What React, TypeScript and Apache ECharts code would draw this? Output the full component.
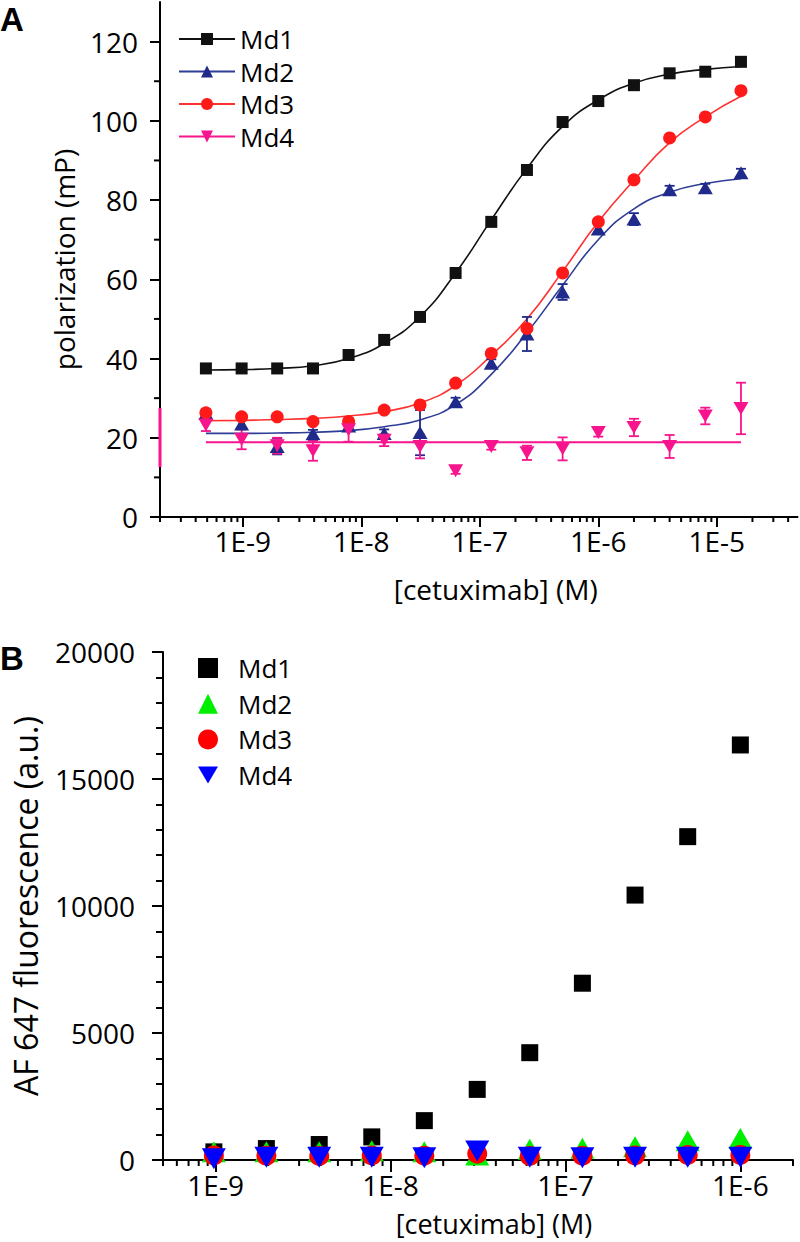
import React, { useEffect, useRef } from "react";
import * as echarts from "echarts";

// ---------- Panel A data ----------
const concA = [4.88e-10, 9.77e-10, 1.95e-9, 3.91e-9, 7.81e-9, 1.56e-8, 3.13e-8, 6.25e-8, 1.25e-7, 2.5e-7, 5e-7, 1e-6, 2e-6, 4e-6, 8e-6, 1.6e-5];
const md1A = [37.5, 37.5, 37.5, 37.5, 40.9, 44.7, 50.5, 61.6, 74.5, 87.6, 99.7, 105.0, 109.0, 112.0, 112.4, 114.9];
const md2A = [26.2, 23.5, 17.8, 21.0, 23.0, 21.1, 21.3, 29.1, 38.8, 46.2, 56.8, 72.7, 75.2, 82.6, 83.1, 86.9];
const md3A = [26.3, 25.3, 25.3, 24.1, 24.1, 27.0, 28.3, 33.8, 41.3, 47.6, 61.6, 74.5, 85.1, 95.7, 101.0, 107.6];
const md4A = [23.2, 19.6, 18.0, 16.7, 22.0, 19.4, 17.8, 11.7, 17.8, 16.2, 17.2, 21.3, 22.6, 17.8, 25.5, 27.4];
const md2ErrA = [1.0, 1.2, 2.0, 1.0, 1.0, 1.0, 5.7, 1.0, 1.0, 4.3, 2.0, 1.0, 1.5, 1.0, 1.0, 1.0];
const md4ErrA = [1.5, 2.5, 2.0, 2.5, 3.0, 1.5, 3.0, 0.8, 0.8, 1.8, 2.9, 1.0, 2.2, 2.9, 2.1, 6.5];
const fit1A = [37.1, 37.2, 37.5, 38.2, 40.0, 43.8, 50.6, 61.6, 75.0, 88.0, 98.6, 105.3, 109.5, 111.8, 113.0, 113.7];
const fit2A = [21.1, 21.1, 21.2, 21.4, 21.8, 22.8, 24.5, 28.4, 36.0, 46.5, 58.5, 70.0, 77.8, 82.0, 84.2, 85.4];
const fit3A = [24.3, 24.4, 24.6, 24.9, 25.5, 26.6, 28.8, 33.2, 40.8, 50.0, 62.0, 74.5, 85.0, 94.5, 101.0, 106.2];
const fit4A = [18.9, 18.9];
const fit4XA = [4.88e-10, 1.6e-5];
const axisMarkA = [27.5, 12.6];
const yTicksA = [0, 20, 40, 60, 80, 100, 120];
const yMinorA = [10, 30, 50, 70, 90, 110];
const xTicksA = [1e-9, 1e-8, 1e-7, 1e-6, 1e-5];

// ---------- Panel B data ----------
const concB = [9.77e-10, 1.95e-9, 3.91e-9, 7.81e-9, 1.56e-8, 3.13e-8, 6.25e-8, 1.25e-7, 2.5e-7, 5e-7, 1e-6];
const md1B = [320, 450, 610, 910, 1550, 2780, 4225, 6960, 10430, 12730, 16340];
const md2B = [327, 327, 327, 365, 327, 200, 420, 460, 520, 760, 850];
const md3B = [180, 170, 160, 180, 170, 250, 160, 170, 180, 200, 200];
const md4B = [50, 110, 110, 110, 90, 350, 110, 90, 110, 110, 110];
const xTicksB = [1e-9, 1e-8, 1e-7, 1e-6];

const names = ["Md1", "Md2", "Md3", "Md4"];

const FONT = "'Open Sans', 'Noto Sans', sans-serif";
const DOWN_TRI = "path://M0,0L20,0L10,17Z";

function minorLogTicks(min: number, max: number) {
  const out: number[] = [];
  for (let e = -11; e <= -3; e++) {
    for (let m = 2; m <= 9; m++) {
      const v = m * Math.pow(10, e);
      if (v >= min * 0.999 && v <= max * 1.001) out.push(v);
    }
  }
  return out;
}

const fmtLog = (v: number) => "1E" + Math.round(Math.log10(v));

export default function App() {
  const ref = useRef<HTMLDivElement>(null);
  useEffect(() => {
    document.body.style.margin = "0";
    const chart = echarts.init(ref.current!, null, { renderer: "svg" });

    const xMinA = 2e-10, xMaxA = 4.8e-5;
    const xMinB = 5e-10, xMaxB = 2e-6;

    const axisLine = { show: true, lineStyle: { color: "#000", width: 2 } };
    const tickStyle = { color: "#000", width: 2 };
    const labelStyle = { color: "#000", fontSize: 28, fontFamily: FONT };

    const errRender = (color: string) => (params: any, api: any) => {
      const x = api.value(0), y = api.value(1), e = api.value(2);
      const top = api.coord([x, y + e]);
      const bot = api.coord([x, y - e]);
      const w = 5;
      const style = { stroke: color, lineWidth: 1.8, fill: null };
      return {
        type: "group",
        children: [
          { type: "line", shape: { x1: top[0], y1: top[1], x2: bot[0], y2: bot[1] }, style },
          { type: "line", shape: { x1: top[0] - w, y1: top[1], x2: top[0] + w, y2: top[1] }, style },
          { type: "line", shape: { x1: bot[0] - w, y1: bot[1], x2: bot[0] + w, y2: bot[1] }, style },
        ],
      };
    };

    const xTickRender = (len: number) => (params: any, api: any) => {
      const c = api.coord([api.value(0), api.value(1)]);
      return { type: "line", shape: { x1: c[0], y1: c[1], x2: c[0], y2: c[1] + len }, style: { stroke: "#000", lineWidth: 2 } };
    };
    const yTickRender = (len: number) => (params: any, api: any) => {
      const c = api.coord([api.value(0), api.value(1)]);
      return { type: "line", shape: { x1: c[0] - len, y1: c[1], x2: c[0], y2: c[1] }, style: { stroke: "#000", lineWidth: 2 } };
    };

    const colA = ["#111111", "#1F2A8A", "#FF1A1A", "#F7148C"];
    const lineColA = ["#111111", "#2E3D96", "#FF3030", "#F7148C"];
    const symA: any[] = ["rect", "triangle", "circle", DOWN_TRI];
    const symSizeA: any[] = [12, [15, 13], 13, [15, 13]];
    const fitsA = [fit1A, fit2A, fit3A];
    const ptsA = [md1A, md2A, md3A, md4A];

    const series: any[] = [];
    // minor ticks (panel A x, A y, B x)
    series.push({
      name: "A x minor ticks",
      type: "custom",
      xAxisIndex: 0,
      yAxisIndex: 0,
      silent: true,
      data: minorLogTicks(xMinA, xMaxA).map((v) => [v, 0]),
      renderItem: xTickRender(5),
      z: 1,
    });
    series.push({
      name: "A y minor ticks",
      type: "custom",
      xAxisIndex: 0,
      yAxisIndex: 0,
      silent: true,
      data: yMinorA.map((v) => [xMinA, v]),
      renderItem: yTickRender(6),
      z: 1,
    });
    series.push({
      name: "B x minor ticks",
      type: "custom",
      xAxisIndex: 1,
      yAxisIndex: 1,
      silent: true,
      data: minorLogTicks(xMinB, xMaxB).map((v) => [v, 0]),
      renderItem: xTickRender(6),
      z: 1,
    });

    // fit lines (legend carriers)
    for (let i = 0; i < 4; i++) {
      const data = i < 3 ? concA.map((c, k) => [c, fitsA[i][k]]) : fit4XA.map((c, k) => [c, fit4A[k]]);
      series.push({
        name: names[i],
        type: "line",
        xAxisIndex: 0,
        yAxisIndex: 0,
        data,
        smooth: 0.5,
        showSymbol: false,
        symbol: symA[i],
        symbolSize: 12,
        itemStyle: { color: colA[i] },
        lineStyle: { color: lineColA[i], width: i === 3 ? 2 : 1.6 },
        z: 2,
      });
    }
    // error bars
    series.push({
      name: "Md2 err",
      type: "custom",
      xAxisIndex: 0,
      yAxisIndex: 0,
      data: concA.map((c, k) => [c, md2A[k], md2ErrA[k]]),
      renderItem: errRender(colA[1]),
      z: 3,
    });
    series.push({
      name: "Md4 err",
      type: "custom",
      xAxisIndex: 0,
      yAxisIndex: 0,
      data: concA.map((c, k) => [c, md4A[k], md4ErrA[k]]),
      renderItem: errRender(colA[3]),
      z: 3,
    });
    // points
    for (let i = 0; i < 4; i++) {
      series.push({
        name: names[i] + " data",
        type: "scatter",
        xAxisIndex: 0,
        yAxisIndex: 0,
        data: concA.map((c, k) => [c, ptsA[i][k]]),
        symbol: symA[i],
        symbolSize: symSizeA[i],
        itemStyle: { color: colA[i], opacity: 1 },
        clip: false,
        z: 4,
      });
    }
    // pink mark on the y axis
    series.push({
      name: "axis mark",
      type: "custom",
      xAxisIndex: 0,
      yAxisIndex: 0,
      data: [[xMinA, axisMarkA[0], axisMarkA[1]]],
      renderItem: (params: any, api: any) => {
        const p1 = api.coord([api.value(0), api.value(1)]);
        const p2 = api.coord([api.value(0), api.value(2)]);
        return {
          type: "line",
          shape: { x1: p1[0], y1: p1[1], x2: p2[0], y2: p2[1] },
          style: { stroke: "#F7148C", lineWidth: 3 },
        };
      },
      z: 5,
    });

    // Panel B
    const colB = ["#000000", "#00EE00", "#FF0000", "#0000FF"];
    const symB: any[] = ["rect", "triangle", "circle", DOWN_TRI];
    const symSizeB: any[] = [17, [24, 21], 20, [24, 21]];
    const ptsB = [md1B, md2B, md3B, md4B];
    const orderB = [0, 2, 1, 3];
    for (const i of orderB) {
      series.push({
        name: "B:" + names[i],
        type: "scatter",
        xAxisIndex: 1,
        yAxisIndex: 1,
        data: concB.map((c, k) => [c, ptsB[i][k]]),
        symbol: symB[i],
        symbolSize: symSizeB[i],
        itemStyle: { color: colB[i], opacity: 1 },
        clip: false,
        z: 4 + i,
      });
    }

    const option: any = {
      animation: false,
      backgroundColor: "#fff",
      textStyle: { fontFamily: FONT },
      grid: [
        { left: 160, top: 2, width: 637.5, height: 515 },
        { left: 163, top: 652, width: 630, height: 508 },
      ],
      xAxis: [
        {
          type: "log",
          logBase: 10,
          gridIndex: 0,
          min: xMinA,
          max: xMaxA,
          position: "bottom",
          axisLine,
          axisTick: { show: true, length: 10, lineStyle: tickStyle, customValues: xTicksA },
          axisLabel: { ...labelStyle, margin: 10, customValues: xTicksA, formatter: fmtLog },
          splitLine: { show: false },
          name: "[cetuximab] (M)",
          nameLocation: "middle",
          nameGap: 58,
          nameTextStyle: { color: "#000", fontSize: 28, fontFamily: FONT, padding: [0, 0, 0, 34] },
        },
        {
          type: "log",
          logBase: 10,
          gridIndex: 1,
          min: xMinB,
          max: xMaxB,
          position: "bottom",
          axisLine,
          axisTick: { show: true, length: 12, lineStyle: tickStyle, customValues: xTicksB },
          axisLabel: { ...labelStyle, lineHeight: 28, margin: 11, customValues: xTicksB, formatter: fmtLog },
          splitLine: { show: false },
          name: "[cetuximab] (M)",
          nameLocation: "middle",
          nameGap: 49,
          nameTextStyle: { color: "#000", fontSize: 27, lineHeight: 28, fontFamily: FONT, padding: [0, 0, 0, 32] },
        },
      ],
      yAxis: [
        {
          type: "value",
          gridIndex: 0,
          min: 0,
          max: 130,
          axisLine,
          axisTick: { show: true, length: 10, lineStyle: tickStyle, customValues: yTicksA },
          axisLabel: { ...labelStyle, margin: 22, customValues: yTicksA },
          splitLine: { show: false },
          name: "polarization (mP)",
          nameLocation: "middle",
          nameGap: 82,
          nameTextStyle: { color: "#000", fontSize: 28, fontFamily: FONT },
        },
        {
          type: "value",
          gridIndex: 1,
          min: 0,
          max: 20000,
          interval: 5000,
          axisLine,
          axisTick: { show: true, length: 11, lineStyle: tickStyle },
          minorTick: { show: true, splitNumber: 5, length: 7, lineStyle: tickStyle },
          axisLabel: { ...labelStyle, margin: 28, formatter: (v: number) => String(v) },
          splitLine: { show: false },
          minorSplitLine: { show: false },
          name: "AF 647 fluorescence (a.u.)",
          nameLocation: "middle",
          nameGap: 122,
          nameTextStyle: { color: "#000", fontSize: 32, fontFamily: FONT },
        },
      ],
      legend: [
        {
          data: names,
          orient: "vertical",
          left: 173,
          top: 21,
          itemWidth: 56,
          itemHeight: 15,
          itemGap: 6.5,
          textStyle: { color: "#000", fontSize: 26, fontFamily: FONT },
          selectedMode: false,
        },
        {
          data: names.map((n) => "B:" + n),
          orient: "vertical",
          left: 193,
          top: 650,
          itemWidth: 20,
          itemHeight: 20,
          itemGap: 9.7,
          formatter: (n: string) => n.replace("B:", ""),
          textStyle: { color: "#000", fontSize: 26, fontFamily: FONT, padding: [0, 0, 0, 15] },
          selectedMode: false,
        },
      ],
      graphic: [
        { type: "text", left: 0, top: 3, style: { text: "A", font: "bold 33px 'Liberation Sans', Arial, sans-serif", fill: "#000" } },
        { type: "text", left: 0, top: 642, style: { text: "B", font: "bold 33px 'Liberation Sans', Arial, sans-serif", fill: "#000" } },
      ],
      series,
    };
    chart.setOption(option);
    return () => chart.dispose();
  }, []);
  return <div ref={ref} style={{ width: 800, height: 1242 }} />;
}
